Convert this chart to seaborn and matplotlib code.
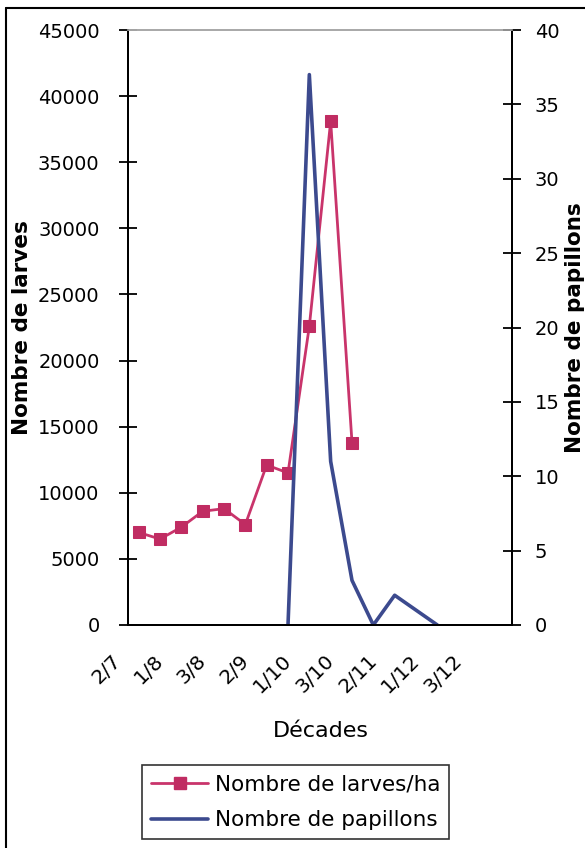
import numpy as np
import pandas as pd
import matplotlib
matplotlib.use("Agg")
import matplotlib.pyplot as plt
import matplotlib.transforms as mtransforms
from matplotlib.lines import Line2D
import seaborn as sns

# ---- data ----
decades = ["2/7", "3/7", "1/8", "2/8", "3/8", "1/9", "2/9", "3/9", "1/10", "2/10",
           "3/10", "1/11", "2/11", "3/11", "1/12", "2/12", "3/12", ""]
larves = [7000, 6500, 7400, 8600, 8800, 7600, 12100, 11500, 22600, 38100, 13800,
          np.nan, np.nan, np.nan, np.nan, np.nan, np.nan, np.nan]
papillons = [np.nan, np.nan, np.nan, np.nan, np.nan, np.nan, np.nan, 0, 37, 11, 3,
             0, 2, 1, 0, np.nan, np.nan, np.nan]
shown_labels = ["2/7", "1/8", "3/8", "2/9", "1/10", "3/10", "2/11", "1/12", "3/12"]
left_ticks = [0, 5000, 10000, 15000, 20000, 25000, 30000, 35000, 40000, 45000]
right_ticks = [0, 5, 10, 15, 20, 25, 30, 35, 40]

df = pd.DataFrame({"pos": np.arange(len(decades)), "decade": decades,
                   "larves": larves, "papillons": papillons})

RED = "#c9346b"
MARK = "#c02c62"
BLUE = "#3c4a8e"

sns.set_style("white")
plt.rcParams["font.family"] = ["DejaVu Sans"]
plt.rcParams["text.color"] = "black"
plt.rcParams["axes.labelcolor"] = "black"
plt.rcParams["xtick.color"] = "black"
plt.rcParams["ytick.color"] = "black"

fig = plt.figure(figsize=(5.85, 8.48), dpi=100)
ax = fig.add_axes([128 / 585, 1 - 625 / 848, 384 / 585, 595 / 848])
ax2 = ax.twinx()

sns.lineplot(data=df.dropna(subset=["larves"]), x="pos", y="larves", ax=ax,
             color=RED, marker="s", markersize=9, markeredgecolor=MARK,
             markerfacecolor=MARK, linewidth=2, legend=False)
sns.lineplot(data=df.dropna(subset=["papillons"]), x="pos", y="papillons", ax=ax2,
             color=BLUE, linewidth=2.6, legend=False)

n = len(decades)
ax.set_xlim(-0.5, n - 0.5)
ax.set_ylim(0, 45000)
ax2.set_ylim(0, 40)

# x ticks: boundaries as crossing ticks, labels on categories
ax.set_xticks(np.arange(n + 1) - 0.5)
ax.set_xticklabels([])
lab_pos = [decades.index(l) for l in shown_labels]
ax.set_xticks(lab_pos, minor=True)
ax.set_xticklabels(shown_labels, minor=True, rotation=45, ha="right", va="top",
                   fontsize=14.5)
ax.tick_params(axis="x", which="major", direction="inout", length=13, width=1.3,
               color="black")
ax.tick_params(axis="x", which="minor", length=0, pad=19)
offset = mtransforms.ScaledTranslation(-0.14, 0, fig.dpi_scale_trans)
for t in ax.get_xticklabels(minor=True):
    t.set_transform(t.get_transform() + offset)

ax.set_yticks(left_ticks)
ax.set_yticklabels([str(v) for v in left_ticks], fontsize=14)
ax.tick_params(axis="y", direction="inout", length=13, width=1.3, pad=14,
               color="black", left=True)
ax2.set_yticks(right_ticks)
ax2.set_yticklabels([str(v) for v in right_ticks], fontsize=14)
ax2.tick_params(axis="y", direction="inout", length=13, width=1.3, pad=10,
                color="black", right=True)

for a in (ax, ax2):
    for s in ("left", "right", "bottom"):
        a.spines[s].set_color("black")
        a.spines[s].set_linewidth(1.4)
    a.spines["top"].set_color("#a8a8a8")
    a.spines["top"].set_linewidth(1.2)
    a.grid(False)

ax.set_xlabel("Décades", fontsize=16, va="center")
ax.xaxis.set_label_coords((321 - 128) / 384, (625 - 731) / 595)
ax.set_ylabel("Nombre de larves", fontsize=15.5, fontweight="bold",
              va="center", ha="center")
ax.yaxis.set_label_coords((22 - 128) / 384, 0.5)
ax2.set_ylabel("Nombre de papillons", fontsize=15.5, fontweight="bold",
               va="center", ha="center", rotation=90)
ax2.yaxis.set_label_coords((575 - 128) / 384, 0.5)

handles = [Line2D([], [], color=RED, marker="s", markersize=9, linewidth=2,
                  markerfacecolor=MARK, markeredgecolor=MARK),
           Line2D([], [], color=BLUE, linewidth=2.6)]
leg = fig.legend(handles, ["Nombre de larves/ha", "Nombre de papillons"],
                 loc="upper left", bbox_to_anchor=(142 / 585, 1 - 765 / 848),
                 frameon=True, fancybox=False, fontsize=15.5, handlelength=2.65,
                 borderaxespad=0, borderpad=0.42, labelspacing=0.75,
                 handletextpad=0.3)
leg.get_frame().set_edgecolor("black")
leg.get_frame().set_linewidth(1.2)

# outer border (left and top)
fig.add_artist(Line2D([6 / 585, 6 / 585], [0, 1 - 8 / 848], color="black",
                      linewidth=1.5, transform=fig.transFigure))
fig.add_artist(Line2D([6 / 585, 1], [1 - 8 / 848, 1 - 8 / 848], color="black",
                      linewidth=1.5, transform=fig.transFigure))

fig.savefig("out.png", dpi=100)
